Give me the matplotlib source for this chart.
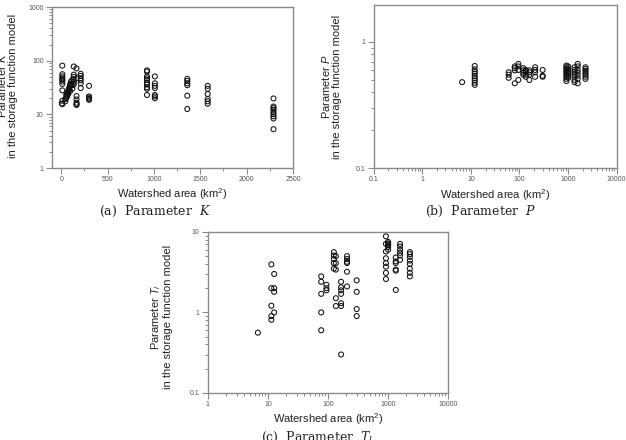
#!/usr/bin/env python
#==============================================================================#
#       Storage function model parameters vs. watershed area (3 panels)
#==============================================================================#
import numpy as np
import matplotlib
matplotlib.use('Agg')
import matplotlib.pyplot as plt
from matplotlib.ticker import MultipleLocator, LogLocator, NullFormatter, FuncFormatter

plt.rcParams['font.family'] = ['Liberation Sans', 'DejaVu Sans']
plt.rcParams['mathtext.fontset'] = 'custom'
plt.rcParams['mathtext.rm'] = 'Liberation Sans'
plt.rcParams['mathtext.it'] = 'Liberation Sans:italic'

#==============================================================================#
#                           Data
#==============================================================================#
# (a) parameter K, linear watershed area
k_area = [7, 12, 45, 55, 65, 75, 85, 95, 105, 120, 135, 165, 210, 300,
          925, 1010, 1360, 1580, 2290]
k_value = [[16],
           [81, 56, 51, 47, 44, 41, 37, 28, 18, 15.5],
           [19.3, 17.5],
           [21.6, 23.3, 20.2],
           [25, 22],
           [26, 27.6, 24],
           [28.8, 30, 31],
           [33, 27, 36],
           [37, 35.7, 41],
           [35, 44, 30],
           [78, 55, 50, 45, 40, 36],
           [72, 47, 22, 19, 16.5, 15.5, 15],
           [57, 52, 47, 43, 38, 31],
           [34, 21.6, 20.5, 19.5, 18.7],
           [66, 63, 51, 47, 44, 39, 36, 32, 30, 23],
           [51, 38, 34, 31, 23, 21.6, 20],
           [46, 42, 38, 35, 22.3, 12.6],
           [34, 30, 24, 19.3, 17.5, 15.8],
           [19.8, 14, 13.1, 12.2, 11, 10.1, 9.2, 8.4, 5.3]]

# (b) parameter P, log watershed area
p_area = [6.6, 12, 60, 80, 95, 120, 135, 160, 210, 300, 925, 1010, 1360, 1580, 2290]
p_value = [[0.48],
           [0.645, 0.607, 0.581, 0.561, 0.537, 0.516, 0.495, 0.475, 0.457],
           [0.575, 0.55, 0.52],
           [0.64, 0.62, 0.595, 0.47],
           [0.67, 0.64, 0.60, 0.50],
           [0.62, 0.595, 0.57, 0.55],
           [0.60, 0.585, 0.55, 0.53],
           [0.595, 0.575, 0.55, 0.50],
           [0.63, 0.60, 0.575, 0.53],
           [0.60, 0.54, 0.53],
           [0.65, 0.63, 0.61, 0.59, 0.57, 0.55, 0.53, 0.51, 0.49],
           [0.64, 0.61, 0.58, 0.56, 0.54, 0.52],
           [0.63, 0.60, 0.58, 0.56, 0.53, 0.50, 0.48],
           [0.67, 0.64, 0.60, 0.57, 0.54, 0.51, 0.47],
           [0.63, 0.61, 0.59, 0.57, 0.55, 0.53, 0.51]]

# (c) parameter Tl, log watershed area
t_area = [6.8, 11.4, 12.7, 77, 94, 125, 135, 165, 207, 300,
          920, 1000, 1340, 1580, 2300]
t_value = [[0.56],
           [3.95, 2.0, 1.21, 0.9, 0.81],
           [3.0, 2.0, 1.8, 1.0],
           [2.8, 2.4, 1.7, 1.0, 0.6],
           [2.2, 2.0, 1.88],
           [5.6, 5.1, 4.6, 4.1, 3.5],
           [5.0, 4.1, 3.4, 1.5, 1.2],
           [2.4, 2.05, 1.88, 1.7, 1.3, 1.2, 0.3],
           [5.0, 4.6, 4.25, 4.1, 3.2, 2.1],
           [2.5, 1.8, 1.1, 0.9],
           [8.8, 7.1, 5.7, 4.7, 4.1, 3.7, 3.1, 2.6],
           [7.5, 7.0, 6.8, 6.5, 6.0, 7.2],
           [4.8, 4.3, 4.1, 3.4, 3.3, 1.9],
           [7.1, 6.6, 6.0, 5.5, 5.1, 4.5],
           [5.6, 5.3, 4.9, 4.4, 4.0, 3.5, 3.1, 2.8]]

def flatten(areas, values):
    xs = np.concatenate([[a] * len(v) for a, v in zip(areas, values)])
    ys = np.concatenate(values)
    return xs, ys

#==============================================================================#
#                              Figure layout
#==============================================================================#
fig = plt.figure(figsize=(6.26, 4.40), dpi=100)
ax_a = fig.add_axes([0.083, 0.618, 0.385, 0.366])
ax_b = fig.add_axes([0.597, 0.618, 0.388, 0.371])
ax_c = fig.add_axes([0.332, 0.107, 0.384, 0.366])

spine_col = '#8a8a8a'
tick_col = '#555555'
label_col = '#222222'

def plain(v, pos):
    return ('%g' % v)

def style(ax):
    for s in ax.spines.values():
        s.set_color(spine_col)
        s.set_linewidth(1.0)
    ax.tick_params(which='major', direction='out', length=4, width=0.8,
                   color=spine_col, labelsize=5, labelcolor=tick_col, pad=2)
    ax.tick_params(which='minor', direction='out', length=2.5, width=0.7,
                   color=spine_col)
    ax.set_yscale('log')
    ax.yaxis.set_major_formatter(FuncFormatter(plain))
    ax.yaxis.set_minor_locator(LogLocator(base=10, subs=np.arange(2, 10)))
    ax.yaxis.set_minor_formatter(NullFormatter())

def scatter(ax, areas, values):
    xs, ys = flatten(areas, values)
    ax.scatter(xs, ys, s=13, facecolors='none', edgecolors='#111111',
               linewidths=0.75, zorder=3, clip_on=False)

# (a)
style(ax_a)
scatter(ax_a, k_area, k_value)
ax_a.set_xlim(-100, 2500)
ax_a.set_ylim(1, 1000)
ax_a.xaxis.set_major_locator(MultipleLocator(500))
ax_a.xaxis.set_minor_locator(MultipleLocator(250))
ax_a.set_ylabel('Parameter $K$\nin the storage function model',
                fontsize=8, color=label_col, linespacing=1.0)
ax_a.yaxis.set_label_coords(-0.141, 0.51)

# (b) and (c)
for ax, areas, values, ylim, xlo, name in [
        (ax_b, p_area, p_value, (0.1, 1.97), 0.1, '$P$'),
        (ax_c, t_area, t_value, (0.1, 10), 1, '$T_l$')]:
    style(ax)
    scatter(ax, areas, values)
    ax.set_xscale('log')
    ax.set_xlim(xlo, 10000)
    ax.set_ylim(*ylim)
    ax.xaxis.set_major_formatter(FuncFormatter(plain))
    ax.xaxis.set_minor_locator(LogLocator(base=10, subs=np.arange(2, 10)))
    ax.xaxis.set_minor_formatter(NullFormatter())
    ax.set_ylabel('Parameter ' + name + '\nin the storage function model',
                  fontsize=8, color=label_col, linespacing=1.0)
ax_b.yaxis.set_label_coords(-0.13, 0.5)
ax_c.yaxis.set_label_coords(-0.146, 0.47)

for ax in (ax_a, ax_b, ax_c):
    ax.set_xlabel('Watershed area (km$^2$)', fontsize=8, color=label_col)
    ax.xaxis.set_label_coords(0.5, -0.115)

#==============================================================================#
#                               Captions
#==============================================================================#
cap = dict(fontsize=9, family='DejaVu Serif', color='#222222',
           ha='center', va='baseline', math_fontfamily='dejavuserif')
fig.text(155 / 626, 1 - 215 / 440, '(a)  Parameter  $K$', **cap)
fig.text(481 / 626, 1 - 215 / 440, '(b)  Parameter  $P$', **cap)
fig.text(317 / 626, -0.001, '(c)  Parameter  $T_l$', **cap)

plt.savefig('out.png', dpi=100)
#plt.show()
